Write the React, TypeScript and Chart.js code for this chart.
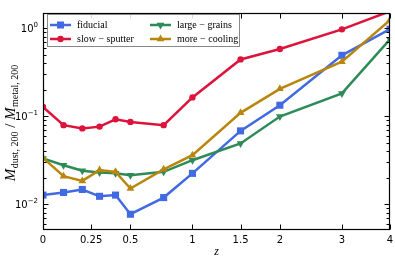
import React, { useEffect, useRef } from 'react';
import { Chart, registerables } from 'chart.js';
Chart.register(...registerables);

const zValues = [0, 0.1, 0.2, 0.3, 0.4, 0.5, 0.75, 1, 1.5, 2, 3, 4];
const fiducial = [0.0127, 0.0136, 0.0147, 0.0123, 0.0127, 0.0077, 0.0119, 0.0224, 0.068, 0.133, 0.49, 0.97];
const slowSputter = [0.127, 0.079, 0.0725, 0.076, 0.092, 0.086, 0.079, 0.163, 0.44, 0.577, 0.966, 1.55];
const largeGrains = [0.033, 0.0277, 0.024, 0.0229, 0.0224, 0.0213, 0.0233, 0.0316, 0.049, 0.099, 0.181, 0.744];
const moreCooling = [0.0336, 0.0208, 0.0184, 0.0244, 0.0233, 0.0151, 0.0249, 0.036, 0.109, 0.204, 0.414, 1.23];

const seriesNames = ['fiducial', 'slow \u2212 sputter', 'large \u2212 grains', 'more \u2212 cooling'];
const seriesColors = ['#4169E1', '#DC143C', '#2E8B57', '#B8860B'];
const seriesMarkers = ['square', 'circle', 'triDown', 'triUp'];

const xTickValues = [0, 0.25, 0.5, 1, 1.5, 2, 3, 4];
const xTickLabels = ['0', '0.25', '0.5', '1', '1.5', '2', '3', '4'];
const yMajorTicks = [0.01, 0.1, 1];
const yTickExponents = ['\u22122', '\u22121', '0'];

const Y_MIN = 0.0051;
const Y_MAX = 1.48;

const fx = (z: number) => Math.log10(1 + z);

function drawMarker(ctx: CanvasRenderingContext2D, kind: string, x: number, y: number, color: string) {
  ctx.save();
  ctx.fillStyle = color;
  ctx.beginPath();
  if (kind === 'square') {
    ctx.rect(x - 3.5, y - 3.5, 7, 7);
  } else if (kind === 'circle') {
    ctx.arc(x, y, 3.2, 0, Math.PI * 2);
  } else if (kind === 'triUp') {
    const r = 4.5;
    ctx.moveTo(x, y - r);
    ctx.lineTo(x + r * 0.866, y + r * 0.5);
    ctx.lineTo(x - r * 0.866, y + r * 0.5);
    ctx.closePath();
  } else {
    const r = 4.5;
    ctx.moveTo(x, y + r);
    ctx.lineTo(x + r * 0.866, y - r * 0.5);
    ctx.lineTo(x - r * 0.866, y - r * 0.5);
    ctx.closePath();
  }
  ctx.fill();
  ctx.restore();
}

const decorPlugin = {
  id: 'decor',
  afterDraw(chart: any) {
    const { ctx, chartArea: a, scales } = chart;
    const xs = scales.x;
    const ys = scales.y;
    ctx.save();
    ctx.strokeStyle = '#000';
    ctx.lineWidth = 1.2;
    const L = Math.round(a.left) + 0.5;
    const R = Math.round(a.right) - 0.5;
    const T = Math.round(a.top) + 0.5;
    const B = Math.round(a.bottom) - 0.5;
    ctx.strokeRect(L, T, R - L, B - T);

    // x ticks
    ctx.lineWidth = 1;
    ctx.beginPath();
    xTickValues.forEach((z) => {
      const px = Math.round(xs.getPixelForValue(fx(z))) + 0.5;
      ctx.moveTo(px, B);
      ctx.lineTo(px, B - 5);
      ctx.moveTo(px, T);
      ctx.lineTo(px, T + 5);
    });
    // y ticks major + minor
    for (let e = -3; e <= 0; e++) {
      for (let k = 1; k <= 9; k++) {
        const v = k * Math.pow(10, e);
        if (v < Y_MIN || v > Y_MAX) continue;
        const py = Math.round(ys.getPixelForValue(v)) + 0.5;
        const len = k === 1 ? 5 : 3;
        ctx.moveTo(L, py);
        ctx.lineTo(L + len, py);
        ctx.moveTo(R, py);
        ctx.lineTo(R - len, py);
      }
    }
    ctx.stroke();

    // x tick labels
    ctx.fillStyle = '#000';
    ctx.font = '10px "DejaVu Sans"';
    ctx.textAlign = 'center';
    ctx.textBaseline = 'middle';
    xTickValues.forEach((z, i) => {
      const px = xs.getPixelForValue(fx(z));
      ctx.fillText(xTickLabels[i], px, a.bottom + 10);
    });

    // y tick labels
    yMajorTicks.forEach((v, i) => {
      const py = ys.getPixelForValue(v);
      ctx.font = '7px "DejaVu Sans"';
      const ew = ctx.measureText(yTickExponents[i]).width;
      const right = 38;
      ctx.textAlign = 'left';
      ctx.textBaseline = 'alphabetic';
      ctx.fillText(yTickExponents[i], right - ew, py - 1);
      ctx.font = '10px "DejaVu Sans"';
      ctx.textAlign = 'right';
      ctx.textBaseline = 'middle';
      ctx.fillText('10', right - ew, py + 1);
    });

    // x title
    ctx.font = 'italic 12px "Liberation Serif"';
    ctx.textAlign = 'center';
    ctx.textBaseline = 'middle';
    ctx.fillText('z', (a.left + a.right) / 2, 252);

    // y title
    const parts: [string, string, number][] = [
      ['M', 'italic 15px "Liberation Serif"', 0],
      ['dust, 200', '10px "Liberation Serif"', 3],
      [' / ', '15px "Liberation Serif"', 0],
      ['M', 'italic 15px "Liberation Serif"', 0],
      ['metal, 200', '10px "Liberation Serif"', 3],
    ];
    let total = 0;
    const widths = parts.map(([t, f]) => {
      ctx.font = f;
      const w = ctx.measureText(t).width;
      total += w;
      return w;
    });
    ctx.save();
    ctx.translate(15, (a.top + a.bottom) / 2 + 2);
    ctx.rotate(-Math.PI / 2);
    ctx.textAlign = 'left';
    ctx.textBaseline = 'alphabetic';
    let cx = -total / 2;
    parts.forEach(([t, f, dy], i) => {
      ctx.font = f;
      ctx.fillText(t, cx, dy);
      cx += widths[i] + (i === 0 || i === 3 ? 0.5 : 0);
    });
    ctx.restore();

    // legend
    const lx = 47, ly = 14, lw = 192, lh = 32;
    ctx.fillStyle = 'rgba(255,255,255,0.85)';
    ctx.fillRect(lx, ly, lw, lh);
    ctx.strokeStyle = '#888';
    ctx.lineWidth = 1;
    ctx.strokeRect(lx + 0.5, ly + 0.5, lw, lh);
    const cols = [50, 150];
    const rows = [25, 39];
    const layout = [
      [0, 0],
      [0, 1],
      [1, 0],
      [1, 1],
    ];
    layout.forEach(([c, r], i) => {
      const x0 = cols[c];
      const y0 = rows[r];
      ctx.strokeStyle = seriesColors[i];
      ctx.lineWidth = 2.5;
      ctx.beginPath();
      ctx.moveTo(x0, y0);
      ctx.lineTo(x0 + 21, y0);
      ctx.stroke();
      drawMarker(ctx, seriesMarkers[i], x0 + 10.5, y0, seriesColors[i]);
      ctx.fillStyle = '#000';
      ctx.font = '10px "Liberation Serif"';
      ctx.textAlign = 'left';
      ctx.textBaseline = 'middle';
      ctx.fillText(seriesNames[i], x0 + 27, y0);
    });
    ctx.restore();
  },
};

export default function App() {
  const ref = useRef<HTMLCanvasElement>(null);
  useEffect(() => {
    document.body.style.margin = '0';
    document.body.style.overflow = 'hidden';
    if (!ref.current) return;
    const mk = (vals: number[]) => zValues.map((z, i) => ({ x: fx(z), y: vals[i] }));
    const allVals = [fiducial, slowSputter, largeGrains, moreCooling];
    const styles = [
      { pointStyle: 'rect', pointRadius: 5, pointRotation: 0 },
      { pointStyle: 'circle', pointRadius: 3.2, pointRotation: 0 },
      { pointStyle: 'triangle', pointRadius: 4.5, pointRotation: 180 },
      { pointStyle: 'triangle', pointRadius: 4.5, pointRotation: 0 },
    ];
    const chart = new Chart(ref.current, {
      type: 'line',
      data: {
        datasets: allVals.map((vals, i) => ({
          label: seriesNames[i],
          data: mk(vals),
          borderColor: seriesColors[i],
          backgroundColor: seriesColors[i],
          pointBackgroundColor: seriesColors[i],
          pointBorderWidth: 0,
          borderWidth: 2.5,
          tension: 0,
          order: 3 - i,
          ...styles[i],
        })),
      },
      options: {
        responsive: false,
        animation: false,
        devicePixelRatio: 1,
        layout: { padding: { left: 43, top: 13, right: 5, bottom: 33 } },
        plugins: { legend: { display: false }, tooltip: { enabled: false } },
        events: [],
        scales: {
          x: { type: 'linear', min: 0, max: fx(4), display: false },
          y: { type: 'logarithmic', min: Y_MIN, max: Y_MAX, display: false },
        },
      },
      plugins: [decorPlugin],
    } as any);
    return () => chart.destroy();
  }, []);
  return (
    <div style={{ width: 395, height: 263 }}>
      <canvas ref={ref} width={395} height={263} />
    </div>
  );
}
